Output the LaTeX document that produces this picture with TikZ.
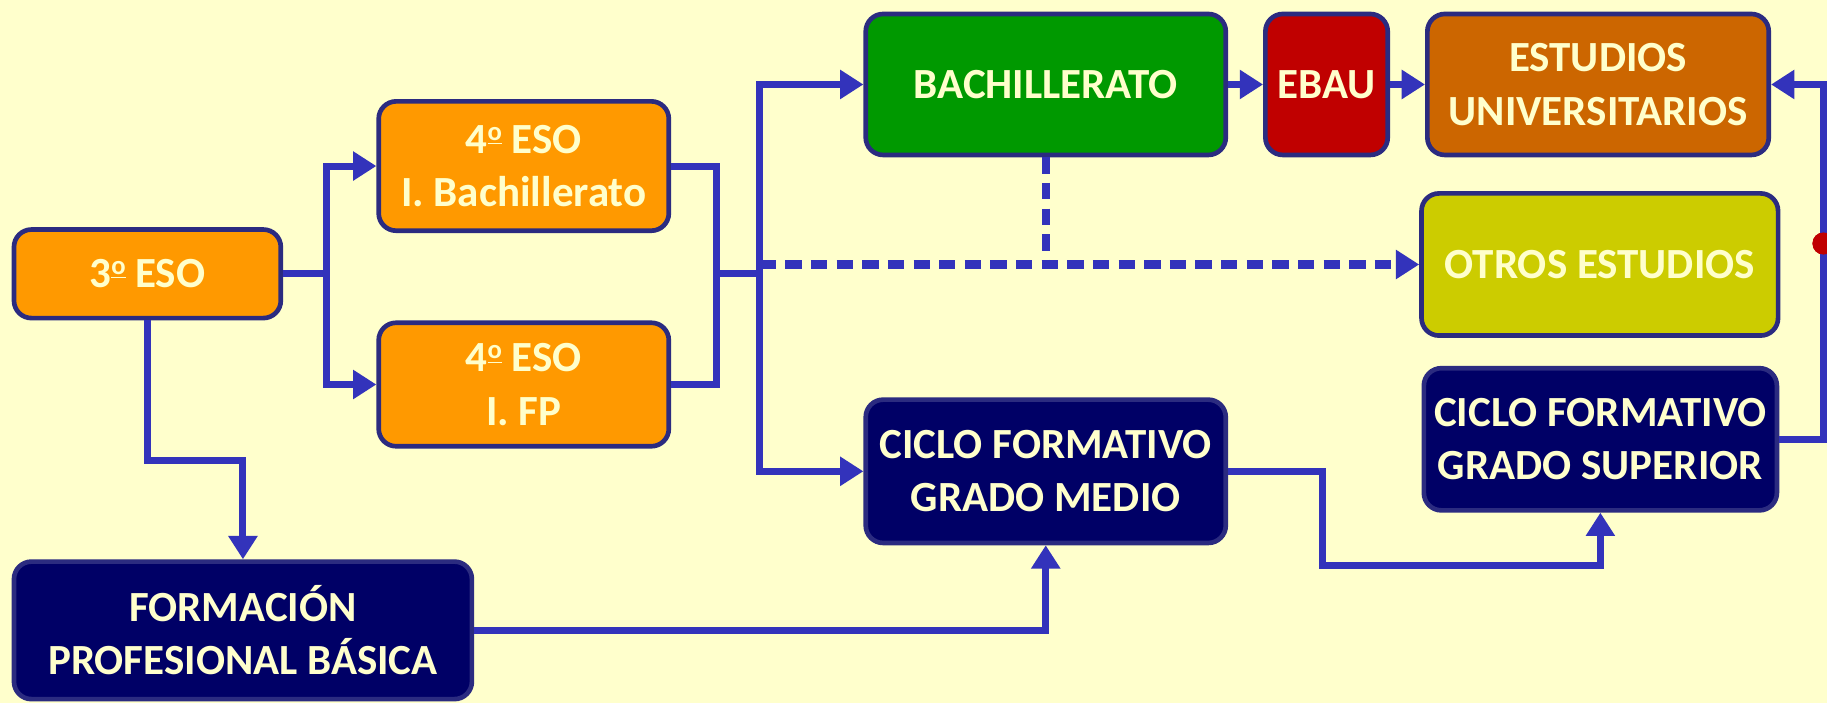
\documentclass[tikz,border=0pt]{standalone}
\usepackage{fontspec}
\setmainfont{Carlito}
\usetikzlibrary{positioning,arrows.meta,calc}
\definecolor{bg}{HTML}{FFFFCC}
\definecolor{cream}{HTML}{FFFFCC}
\definecolor{edge}{HTML}{2B2B80}
\definecolor{wire}{HTML}{3333BB}
\definecolor{naranja}{HTML}{FF9900}
\definecolor{verde}{HTML}{009900}
\definecolor{rojo}{HTML}{C00000}
\definecolor{marron}{HTML}{CC6600}
\definecolor{oliva}{HTML}{CCCC00}
\definecolor{marino}{HTML}{000066}
\newcommand{\ordm}{\raisebox{.62ex}{\fontsize{13}{13}\selectfont\underline{o}}}

\begin{document}
\begin{tikzpicture}[x=0.2mm,y=-0.2mm,node distance=6mm,
  box/.style={draw=edge,line width=0.8mm,rounded corners=3mm,align=center,text=cream,
    font=\bfseries\fontsize{21}{26}\selectfont,inner sep=0pt},
  conn/.style={draw=wire,line width=1.2mm},
  arr/.style={conn,-{Triangle[length=4mm,width=4.8mm]}},
  dasharr/.style={arr,line width=1.4mm,dash pattern=on 2.8mm off 1.6mm},
  dashln/.style={conn,line width=1.4mm,dash pattern=on 2.8mm off 1.6mm},
  dotmark/.style={circle,fill=rojo,inner sep=0pt,minimum size=3.8mm}]
\useasboundingbox (0,0) rectangle (1568,603);
\fill[bg] (0,0) rectangle (1568,603);

\node[box,fill=naranja,minimum width=45.8mm,minimum height=15.2mm] (eso3)   at (126.5,235) {3\ordm{} ESO};
\node[box,fill=naranja,minimum width=49.8mm,minimum height=22.2mm] (eso4b)  at (449.5,142.5) {4\ordm{} ESO\\I. Bachillerato};
\node[box,fill=naranja,minimum width=49.8mm,minimum height=21.2mm] (eso4f)  at (449.5,330) {4\ordm{} ESO\\I. FP};
\node[box,fill=verde,minimum width=61.8mm,minimum height=24.2mm]   (bach)   at (897.5,72.5) {BACHILLERATO};
\node[box,fill=rojo,minimum width=21mm,minimum height=24.2mm,right=of bach] (ebau) {EBAU};
\node[box,fill=marron,minimum width=58.6mm,minimum height=24.2mm,right=of ebau] (univ) {ESTUDIOS\\UNIVERSITARIOS};
\node[box,fill=oliva,minimum width=61.2mm,minimum height=24.4mm]   (otros)  at (1373,227) {OTROS ESTUDIOS};
\node[box,fill=marino,minimum width=61.8mm,minimum height=24.6mm]  (cfgm)   at (897.5,404.5) {CICLO FORMATIVO\\GRADO MEDIO};
\node[box,fill=marino,minimum width=60.6mm,minimum height=24.4mm]  (cfgs)   at (1373.5,377) {CICLO FORMATIVO\\GRADO SUPERIOR};
\node[box,fill=marino,minimum width=78.6mm,minimum height=23.6mm]  (fpb)    at (208.5,541) {FORMACIÓN\\PROFESIONAL BÁSICA};

\coordinate (j1) at (280,235);
\coordinate (j2) at (615,235);
\coordinate (j3) at (652,235);
\coordinate (k1) at (126.5,395);
\coordinate (m1) at (1135,485);
\coordinate (rt) at (1565,0);
\node[dotmark] (dot) at (1565,209) {};

\draw[conn] (eso3) -- (j1);
\draw[arr]  (j1) |- (eso4b);
\draw[arr]  (j1) |- (eso4f);
\draw[conn] (eso4b) -| (j2) (eso4f) -| (j2) (j2) -- (j3);
\draw[arr]  (j3) |- (bach);
\draw[arr]  (j3) |- (cfgm);
\draw[dasharr] (j3 |- otros.west) -- (otros.west);
\draw[dashln]  (bach.south) -- (bach.south |- otros.west);
\draw[arr]  (bach) -- (ebau);
\draw[arr]  (ebau) -- (univ);
\draw[arr]  (cfgs.east) -- (cfgs.east -| rt) -- (univ.east -| rt) -- (univ.east);
\draw[arr]  (eso3.south) -- (k1) -| (fpb.north);
\draw[arr]  (fpb.east) -| (cfgm.south);
\draw[arr]  (cfgm.east) -| (m1) -| (cfgs.south);
\node[dotmark] at (dot) {};
\end{tikzpicture}
\end{document}
